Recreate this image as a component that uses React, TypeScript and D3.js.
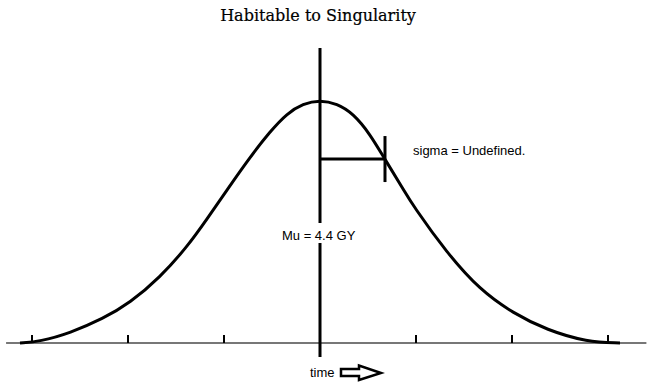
import React from "react";
import * as d3 from "d3";

// Curve: time in sigma-units from the mean, relative height (peak = 1)
const curveX = [-3.125, -2.917, -2.604, -2.26, -1.979, -1.667, -1.385, -1.177, -0.969, -0.729, -0.521, -0.344, -0.177, 0, 0.177, 0.344, 0.521, 0.677, 0.865, 0.969, 1.323, 1.667, 2.01, 2.365, 2.781, 3.125];
const curveY = [0, 0.006, 0.041, 0.1, 0.165, 0.27, 0.395, 0.51, 0.63, 0.765, 0.87, 0.945, 0.985, 1.0, 0.985, 0.945, 0.86, 0.755, 0.635, 0.565, 0.37, 0.218, 0.123, 0.053, 0.004, 0];

const tickValues = [-3, -2, -1, 0, 1, 2, 3];
const axisExtent = [-3.27, 3.4];
const muValue = 0;
const muLineExtent = [-0.058, 1.214];
const sigmaValue = 0.677;
const sigmaLevel = 0.757;

const titleText = "Habitable to Singularity";
const muLabel = "Mu = 4.4 GY";
const sigmaLabel = "sigma = Undefined.";
const timeLabel = "time";

const W = 659;
const H = 385;

export default function App() {
  const x = d3.scaleLinear().domain([-3, 3]).range([32, 608]);
  const y = d3.scaleLinear().domain([0, 1]).range([343, 100]);

  const pts: [number, number][] = curveX.map((v, i) => [v, curveY[i]]);
  const line = d3
    .line<[number, number]>()
    .x((d) => x(d[0]))
    .y((d) => y(d[1]))
    .curve(d3.curveBasis);

  const mx = x(muValue);
  const sx = x(sigmaValue);
  const sy = y(sigmaLevel);
  const ax = mx + 21; // arrow anchor
  const ay = 373;
  const arrow = `M${ax},${ay - 4} L${ax + 18},${ay - 4} L${ax + 18},${ay - 7.5} L${ax + 40},${ay} L${ax + 18},${ay + 7} L${ax + 18},${ay + 3} L${ax},${ay + 3} Z`;

  const sans = "'Liberation Sans', Arial, sans-serif";

  return (
    <svg
      width={W}
      height={H}
      style={{ position: "absolute", left: 0, top: 0, background: "#fff" }}
    >
      <rect x={0} y={0} width={W} height={H} fill="#fff" />
      <text
        x={318}
        y={21}
        textAnchor="middle"
        fontFamily="'DejaVu Serif', serif"
        fontSize={16}
        fill="#000"
        stroke="#000"
        strokeWidth={0.2}
      >
        {titleText}
      </text>

      {/* axis */}
      <line
        x1={x(axisExtent[0])}
        x2={x(axisExtent[1])}
        y1={y(0)}
        y2={y(0)}
        stroke="#4a4a4a"
        strokeWidth={1.6}
      />
      {tickValues.map((t) => (
        <line
          key={t}
          x1={x(t)}
          x2={x(t)}
          y1={y(0) - 8}
          y2={y(0)}
          stroke="#000"
          strokeWidth={2}
        />
      ))}

      {/* curve */}
      <path d={line(pts) || ""} fill="none" stroke="#000" strokeWidth={3} />

      {/* mu line */}
      <line
        x1={mx}
        x2={mx}
        y1={y(muLineExtent[1])}
        y2={y(muLineExtent[0])}
        stroke="#000"
        strokeWidth={3}
      />

      {/* sigma bar */}
      <line x1={mx} x2={sx} y1={sy} y2={sy} stroke="#000" strokeWidth={3} />
      <line x1={sx} x2={sx} y1={sy - 23} y2={sy + 23} stroke="#000" strokeWidth={3} />

      <text x={413} y={155} fontFamily={sans} fontSize={13} fill="#000">
        {sigmaLabel}
      </text>

      {/* mu label with white box */}
      <rect x={281} y={223} width={78} height={20} fill="#fff" />
      <text x={282} y={240} fontFamily={sans} fontSize={13} fill="#000">
        {muLabel}
      </text>

      <text x={310} y={377} fontFamily={sans} fontSize={13} fill="#000">
        {timeLabel}
      </text>
      <path d={arrow} fill="#fff" stroke="#000" strokeWidth={2.5} strokeLinejoin="miter" />
    </svg>
  );
}
